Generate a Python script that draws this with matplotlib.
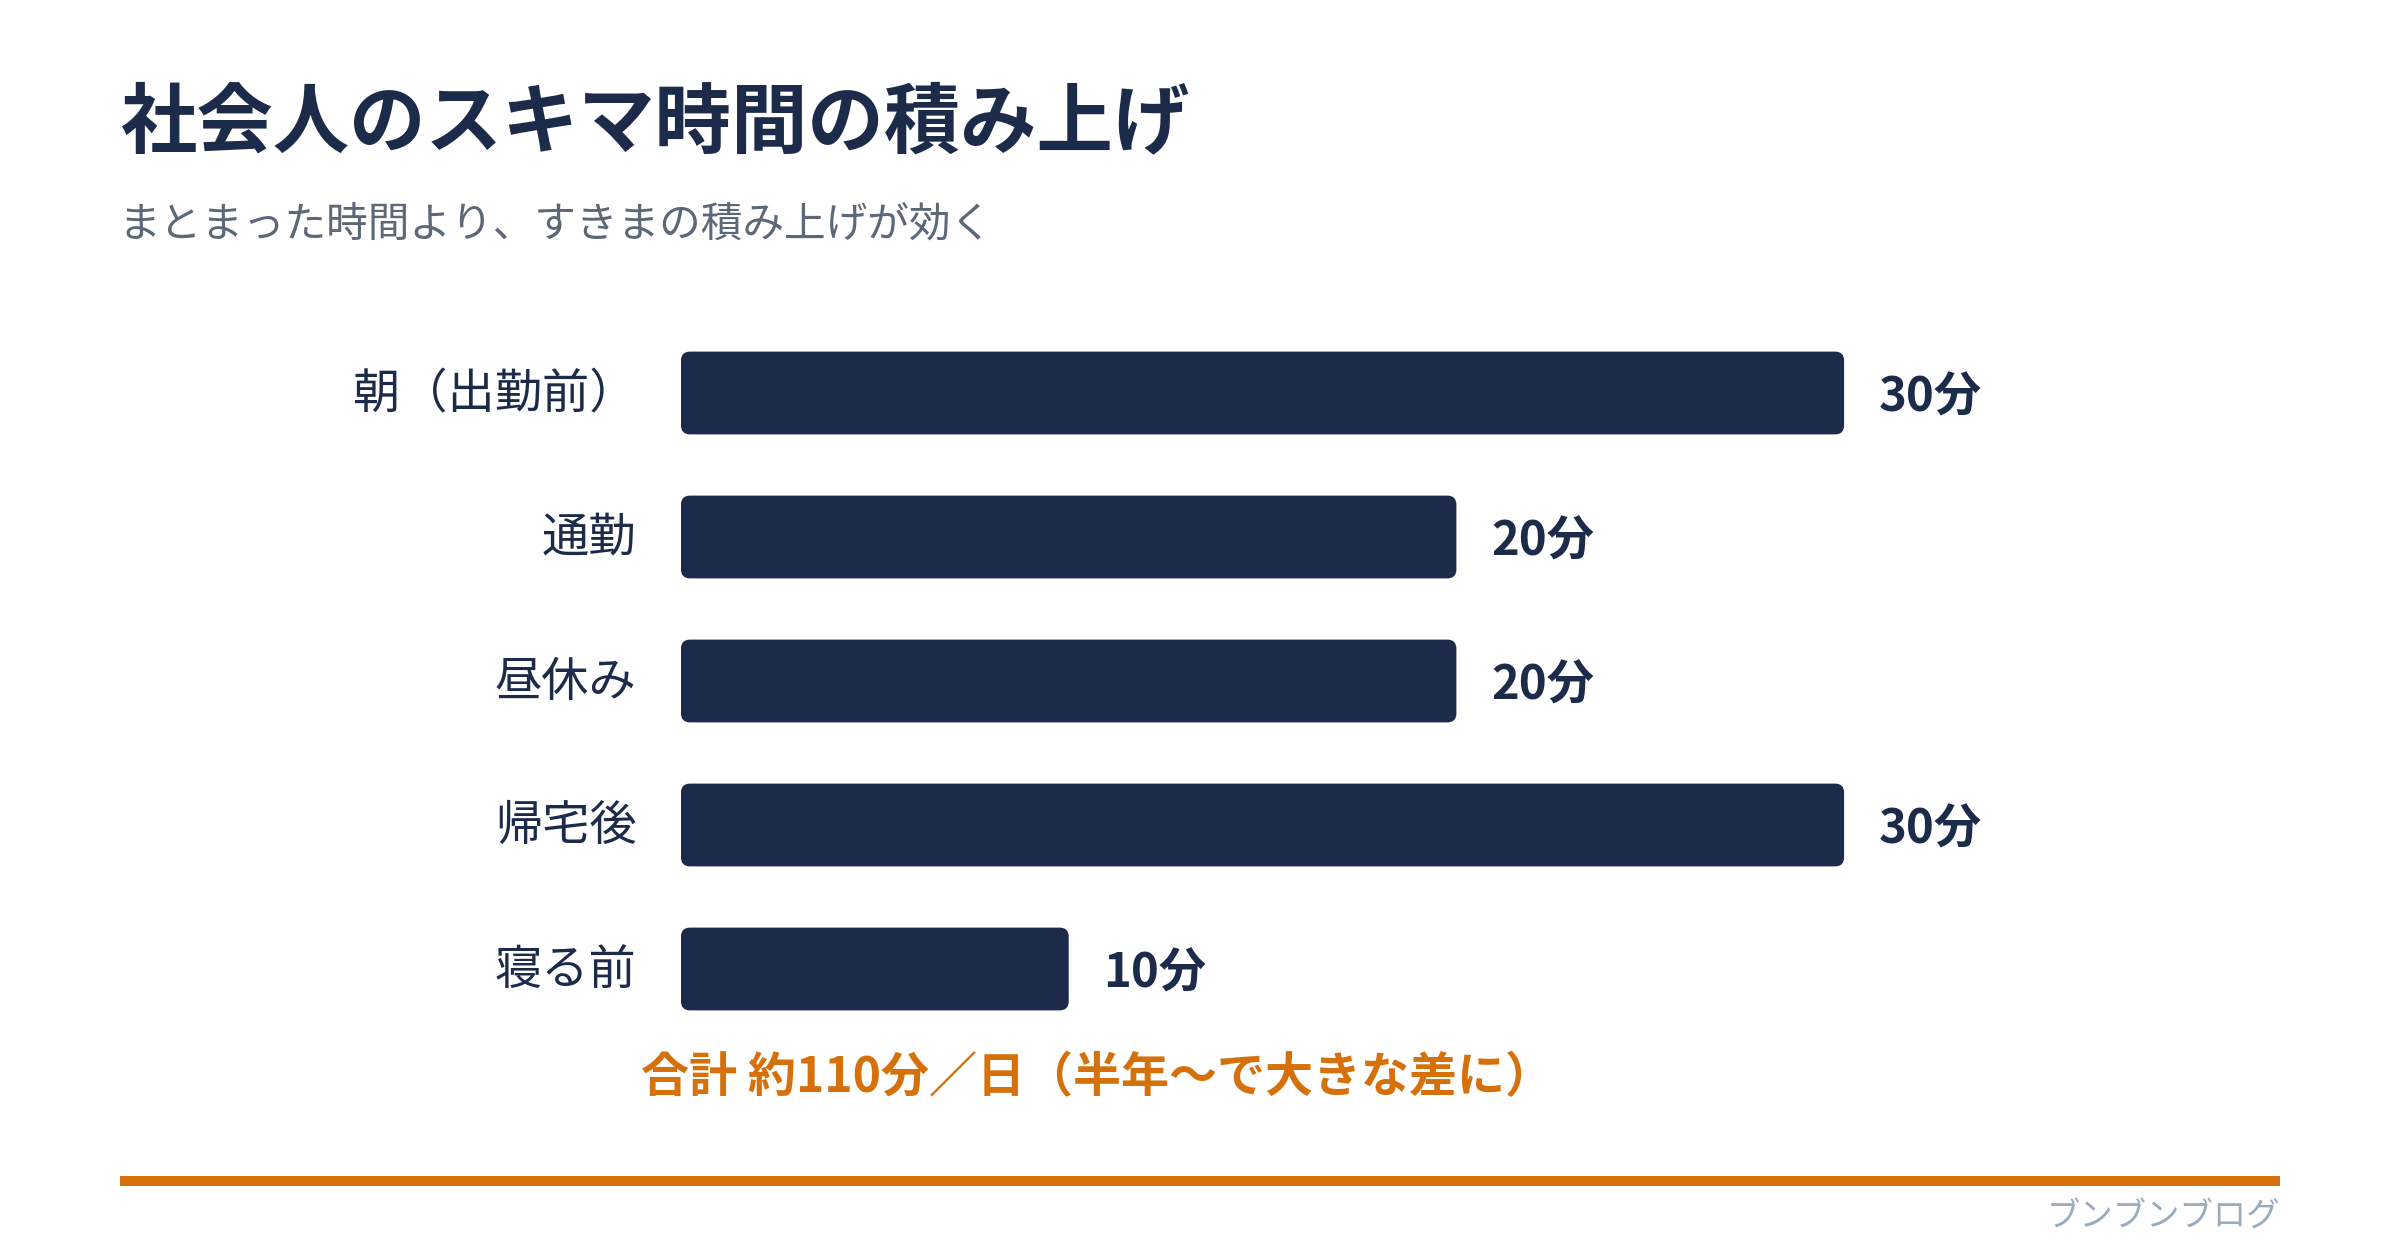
import matplotlib
matplotlib.use("Agg")
import matplotlib.pyplot as plt
from matplotlib.patches import FancyBboxPatch

plt.rcParams['font.family'] = ['Noto Sans CJK JP', 'DejaVu Sans']

# data
categories = ["朝（出勤前）", "通勤", "昼休み", "帰宅後", "寝る前"]
minutes = [30, 20, 20, 30, 10]
value_labels = [f"{m}分" for m in minutes]
title = "社会人のスキマ時間の積み上げ"
subtitle = "まとまった時間より、すきまの積み上げが効く"
total_note = "合計 約110分／日（半年〜で大きな差に）"
footer = "ブンブンブログ"

navy = "#1d2b4a"
orange = "#d6700a"

W, H = 2400, 1260
fig = plt.figure(figsize=(12, 6.3), dpi=200)

# bar axes: 1 minute ~ 38.8 px, row spacing 144 px
ax_left, ax_top = 681, 321
px_per_min = 38.77
ax_w = 40 * px_per_min
ax_h = 5 * 144
ax = fig.add_axes([ax_left / W, 1 - (ax_top + ax_h) / H, ax_w / W, ax_h / H])
ax.set_xlim(0, 40)
ax.set_ylim(len(categories) - 0.5, -0.5)
ax.axis("off")

ypos = list(range(len(categories)))
bars = ax.barh(ypos, minutes, height=0.575, color=navy)

r = 9 / px_per_min
for b in bars:
    b.set_visible(False)
    p = FancyBboxPatch((b.get_x(), b.get_y()), b.get_width(), b.get_height(),
                       boxstyle=f"round,pad=0,rounding_size={r}",
                       mutation_aspect=px_per_min / 144,
                       fc=navy, ec="none")
    ax.add_patch(p)

for y, m, lab, cat in zip(ypos, minutes, value_labels, categories):
    ax.annotate(lab, (m, y), xytext=(12.5, -1.6), textcoords="offset points",
                ha="left", va="center", fontsize=17, fontweight="bold", color=navy)
    ax.annotate(cat, (0, y), xytext=(-16, -0.5), textcoords="offset points",
                ha="right", va="center", fontsize=17, color=navy)

# total note under the bars
fig.text(641 / W, 1 - 1078 / H, total_note, ha="left", va="center",
         fontsize=17.3, fontweight="bold", color=orange)

# title / subtitle
fig.text(120 / W, 1 - 124 / H, title, ha="left", va="center",
         fontsize=27.5, fontweight="bold", color=navy)
fig.text(118 / W, 1 - 225 / H, subtitle, ha="left", va="center",
         fontsize=15, color="#5c6878")

# bottom rule and footer
fig.add_artist(plt.Line2D([120 / W, 2280 / W], [1 - 1181 / H, 1 - 1181 / H],
                          color=orange, lw=3.6, solid_capstyle="butt"))
fig.text(2280 / W, 1 - 1216 / H, footer, ha="right", va="center",
         fontsize=12, color="#9aabbd")

fig.savefig("out.png", dpi=200, facecolor="white")
